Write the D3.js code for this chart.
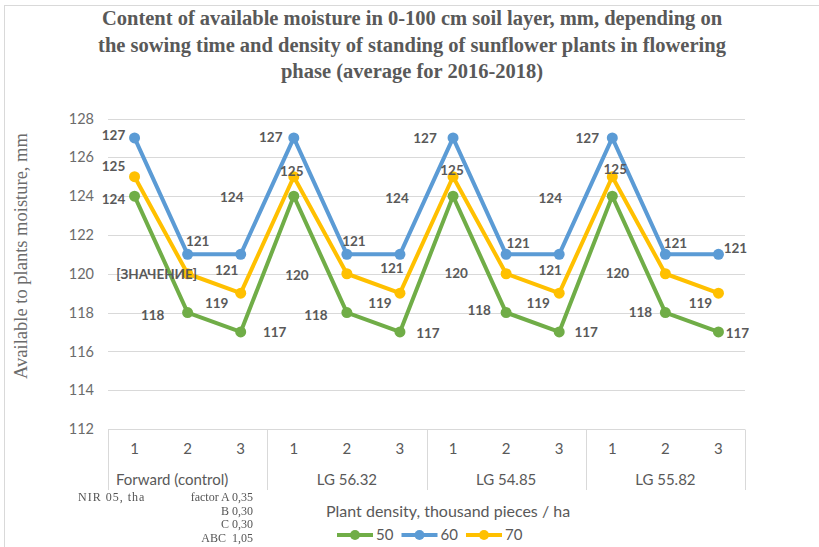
<!DOCTYPE html>
<html>
<head>
<meta charset="utf-8">
<script src="https://cdn.jsdelivr.net/npm/d3@7"></script>
<style>
  body { margin: 0; background: #fff; }
  svg { display: block; }
</style>
</head>
<body>
<div id="chart"></div>
<script>
// data
const varieties = ["Forward (control)", "LG 56.32", "LG 54.85", "LG 55.82"];
const sowingTerms = ["1", "2", "3"];
const densities = ["50", "60", "70"];
const moisture50 = [124, 118, 117, 124, 118, 117, 124, 118, 117, 124, 118, 117];
const moisture60 = [127, 121, 121, 127, 121, 121, 127, 121, 121, 127, 121, 121];
const moisture70 = [125, 120, 119, 125, 120, 119, 125, 120, 119, 125, 120, 119];
const yTicks = [112, 114, 116, 118, 120, 122, 124, 126, 128];
// the one label that shows a placeholder instead of its value
const labelText70 = { 1: "[ЗНАЧЕНИЕ]" };
const nirLines = ["factor A 0,35", "B 0,30", "C 0,30", "ABC  1,05"];

const titleLines = [
  "Content of available moisture in 0-100 cm soil layer, mm, depending on",
  "the sowing time and density of standing of sunflower plants in flowering",
  "phase (average for 2016-2018)"
];

// label offsets (dx, dy) from each point, as Excel placed them
const offsets50 = [[-21, 3], [-35, 3], [34, 0], [-62, 1], [-31, 3], [28, 1],
                   [-56, 2], [-27, -2], [27, 0], [-62, 2], [-25, 0], [19, 1]];
const offsets60 = [[-21, -3], [10, -13], [-14, 16], [-23, -1], [7, -13], [-8, 14],
                   [-28, 0], [12, -11], [-9, 16], [-25, 0], [10, -11], [17, -6]];
const offsets70 = [[-21, -10], [-31, 1], [-24, 10], [-2, -5], [-50, 2], [-20, 10],
                   [-1, -6], [-50, 0], [-21, 10], [3, -7], [-48, 0], [-18, 10]];

const colours = { "50": "#70ad47", "60": "#5b9bd5", "70": "#ffc000" };
const textGrey = "#595959";
const gridGrey = "#d9d9d9";

const width = 819, height = 547;
const plot = { left: 108, right: 745, top: 118.5, bottom: 429 };

const categories = d3.cross(varieties, sowingTerms).map(([v, t]) => v + "|" + t);

const series = [
  { name: "50", values: moisture50, offsets: offsets50, text: {} },
  { name: "60", values: moisture60, offsets: offsets60, text: {} },
  { name: "70", values: moisture70, offsets: offsets70, text: labelText70 }
];

const svg = d3.select("#chart").append("svg")
  .attr("width", width)
  .attr("height", height);

svg.append("rect").attr("width", width).attr("height", height).attr("fill", "#fff");

// chart frame
svg.append("rect")
  .attr("x", 4.5).attr("y", 5.5)
  .attr("width", width + 10).attr("height", height + 10)
  .attr("fill", "none")
  .attr("stroke", gridGrey);

const x = d3.scaleBand().domain(categories).range([plot.left, plot.right]);
const y = d3.scaleLinear().domain([112, 128]).range([plot.bottom, plot.top]);
const cx = i => x(categories[i]) + x.bandwidth() / 2;

// title
svg.append("text")
  .attr("x", 412).attr("y", 25)
  .attr("text-anchor", "middle")
  .style("font-family", "'Liberation Serif', 'Times New Roman', serif")
  .style("font-weight", "bold")
  .style("font-size", "20.5px")
  .attr("fill", textGrey)
  .selectAll("tspan")
  .data(titleLines)
  .enter()
  .append("tspan")
  .attr("x", 412)
  .attr("dy", (d, i) => i === 0 ? 0 : 26.5)
  .text(d => d);

// gridlines
svg.append("g")
  .selectAll("line")
  .data(yTicks)
  .enter()
  .append("line")
  .attr("x1", plot.left).attr("x2", plot.right)
  .attr("y1", d => Math.round(y(d)) + 0.5)
  .attr("y2", d => Math.round(y(d)) + 0.5)
  .attr("stroke", gridGrey)
  .attr("stroke-width", 1);

// y axis labels
const yAxis = svg.append("g")
  .attr("transform", `translate(${plot.left - 14},0)`)
  .call(d3.axisLeft(y).tickValues(yTicks).tickSize(0).tickPadding(0));
yAxis.select(".domain").remove();
yAxis.selectAll("text")
  .style("font-family", "Lato, sans-serif")
  .style("font-size", "14.5px")
  .attr("fill", "#6b6b6b");

svg.append("text")
  .attr("transform", "translate(27,256) rotate(-90)")
  .attr("text-anchor", "middle")
  .style("font-family", "'Liberation Serif', 'Times New Roman', serif")
  .style("font-size", "18.5px")
  .attr("fill", "#6b6b6b")
  .text("Available to plants moisture, mm");

// category axis: two levels in a box
const groupX = d3.scaleBand().domain(varieties).range([plot.left, plot.right]);
const boxBottom = 490;

svg.append("g")
  .selectAll("line")
  .data(d3.range(varieties.length + 1))
  .enter()
  .append("line")
  .attr("x1", i => Math.round(plot.left + i * groupX.bandwidth()) + 0.5)
  .attr("x2", i => Math.round(plot.left + i * groupX.bandwidth()) + 0.5)
  .attr("y1", Math.round(plot.bottom) + 0.5)
  .attr("y2", boxBottom)
  .attr("stroke", gridGrey);

svg.append("g")
  .selectAll("text")
  .data(categories)
  .enter()
  .append("text")
  .attr("x", d => x(d) + x.bandwidth() / 2)
  .attr("y", 454)
  .attr("text-anchor", "middle")
  .style("font-family", "Lato, sans-serif")
  .style("font-size", "15px")
  .attr("fill", textGrey)
  .text(d => d.split("|")[1]);

svg.append("g")
  .selectAll("text")
  .data(varieties)
  .enter()
  .append("text")
  .attr("x", (d, i) => i === 0 ? groupX(d) + 8 : groupX(d) + groupX.bandwidth() / 2)
  .attr("y", 485)
  .attr("text-anchor", (d, i) => i === 0 ? "start" : "middle")
  .style("font-family", "Lato, sans-serif")
  .style("font-size", "15px")
  .attr("fill", textGrey)
  .text(d => d);

// lines and markers
const line = d3.line()
  .x((d, i) => cx(i))
  .y(d => y(d));

const seriesG = svg.append("g")
  .selectAll("g")
  .data(series)
  .enter()
  .append("g");

seriesG.append("path")
  .attr("d", d => line(d.values))
  .attr("fill", "none")
  .attr("stroke", d => colours[d.name])
  .attr("stroke-width", 4)
  .attr("stroke-linejoin", "round");

seriesG.selectAll("circle")
  .data(d => d.values.map(v => ({ v, name: d.name })))
  .enter()
  .append("circle")
  .attr("cx", (d, i) => cx(i))
  .attr("cy", d => y(d.v))
  .attr("r", 5.5)
  .attr("fill", d => colours[d.name]);

// data labels on top
svg.append("g")
  .selectAll("g")
  .data(series)
  .enter()
  .append("g")
  .selectAll("text")
  .data(d => d.values.map((v, i) => ({ v, i, off: d.offsets[i], text: d.text[i] })))
  .enter()
  .append("text")
  .attr("x", d => cx(d.i) + d.off[0])
  .attr("y", d => y(d.v) + d.off[1])
  .attr("dy", "0.35em")
  .attr("text-anchor", "middle")
  .style("font-family", "Lato, sans-serif")
  .style("font-weight", "bold")
  .style("font-size", "13.5px")
  .attr("fill", textGrey)
  .text(d => d.text !== undefined ? d.text : d.v);

// NIR note (pasted as a small blurry picture in the original)
const blur = svg.append("defs").append("filter").attr("id", "soft");
blur.append("feGaussianBlur").attr("stdDeviation", 0.45);

const nir = svg.append("g")
  .attr("filter", "url(#soft)")
  .style("font-family", "'Liberation Serif', 'Times New Roman', serif")
  .style("font-size", "12px")
  .attr("fill", "#555");

nir.append("text")
  .attr("x", 78).attr("y", 501)
  .style("letter-spacing", "1px")
  .text("NIR 05, tha");

nir.selectAll("text.row")
  .data(nirLines)
  .enter()
  .append("text")
  .attr("class", "row")
  .attr("x", 253)
  .attr("y", (d, i) => 501 + i * 13.5)
  .attr("text-anchor", "end")
  .style("white-space", "pre")
  .text(d => d);

// legend
svg.append("text")
  .attr("x", 326).attr("y", 517)
  .style("font-family", "Lato, sans-serif")
  .style("font-size", "16px")
  .attr("fill", textGrey)
  .text("Plant density, thousand pieces / ha");

const legendX = d3.scalePoint().domain(densities).range([337, 466]);

const legend = svg.append("g")
  .selectAll("g")
  .data(densities)
  .enter()
  .append("g")
  .attr("transform", d => `translate(${legendX(d)},535)`);

legend.append("line")
  .attr("x1", 0).attr("x2", 36)
  .attr("stroke", d => colours[d])
  .attr("stroke-width", 4);

legend.append("circle")
  .attr("cx", 18).attr("r", 5)
  .attr("fill", d => colours[d]);

legend.append("text")
  .attr("x", 39).attr("dy", "0.35em")
  .style("font-family", "Lato, sans-serif")
  .style("font-size", "15px")
  .attr("fill", textGrey)
  .text(d => d);
</script>
</body>
</html>
